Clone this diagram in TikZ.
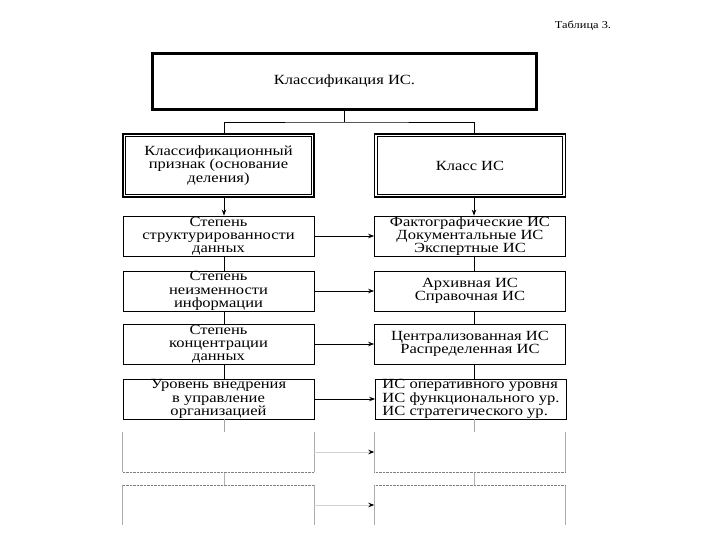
\documentclass[tikz,border=0pt]{standalone}
\usepackage{fontspec}
\setmainfont{Liberation Serif}[FakeStretch=1.18]
\usetikzlibrary{arrows.meta,positioning}

\tikzset{
  cell/.style={draw, line width=0.8pt, minimum width=191pt, minimum height=40pt,
    inner sep=0pt, align=center, font=\fontsize{14}{13.2}\selectfont},
  head/.style={cell, line width=1.5pt, minimum height=63pt},
  faint/.style={minimum width=191pt, minimum height=40pt, inner sep=0pt},
  link/.style={line width=0.8pt},
  flow/.style={line width=0.8pt, ->},
  paleflow/.style={line width=0.8pt, draw=gray!35, -{Stealth[length=6pt,width=4.5pt,black]}},
}

\begin{document}
\begin{tikzpicture}[x=1pt,y=-1pt,>={Stealth[length=6pt,width=4.5pt]}]
  \useasboundingbox (0,0) rectangle (720,540);
  \node[font=\fontsize{10.5}{12}\selectfont] (tab) at (583,26) {Таблица 3.};

  % title box, double frame
  \node[cell, line width=2.6pt, minimum width=385pt, minimum height=57pt] (top) at (344.5,81.5) {Классификация ИС.};
  \draw[line width=0.7pt] ([shift={(3pt,3pt)}]top.south west) rectangle ([shift={(-3pt,-3pt)}]top.north east);

  % column heads
  \node[head] (lh) at (218.5,165.5) {Классификационный\\признак (основание\\деления)};
  \node[head] (rh) at (470,165.5) {Класс ИС};
  \foreach \n in {lh,rh}
    \draw[line width=0.6pt] ([shift={(3.5pt,3.5pt)}]\n.south west) rectangle ([shift={(-3.5pt,-3.5pt)}]\n.north east);

  % rows
  \node[cell] (l1) at (218.5,236) {Степень\\структурированности\\данных};
  \node[cell] (r1) at (470,236) {Фактографические ИС\\Документальные ИС\\Экспертные ИС};
  \node[cell] (l2) at (218.5,291) {Степень\\неизменности\\информации};
  \node[cell] (r2) at (470,291) {Архивная ИС\\Справочная ИС};
  \node[cell] (l3) at (218.5,344) {Степень\\концентрации\\данных};
  \node[cell] (r3) at (470,344) {Централизованная ИС\\Распределенная ИС};
  \node[cell] (l4) at (218.5,399) {Уровень внедрения\\в управление\\организацией};
  \node[cell, align=left] (r4) at (471,399) {ИС оперативного уровня\\ИС функционального ур.\\ИС стратегического ур.};
  \node[faint] (l5) at (218.5,452) {};
  \node[faint] (r5) at (470,452) {};
  \node[faint] (l6) at (218.5,505) {};
  \node[faint] (r6) at (470,505) {};

  % connectors
  \coordinate (cl) at (224,0);
  \coordinate (cr) at (474,0);
  \coordinate (fork) at (344.5,122);
  \draw[link] (top.south) -- (fork);
  \draw[link] (lh.north -| cl) |- (fork) -| (rh.north -| cr);
  \draw[flow] (lh.south -| cl) -- (l1.north -| cl);
  \draw[flow] (rh.south -| cr) -- (r1.north -| cr);
  \foreach \a/\b/\c in {l1/l2/cl,l2/l3/cl,l3/l4/cl,r1/r2/cr,r2/r3/cr,r3/r4/cr}
    \draw[link] (\a.south -| \c) -- (\b.north -| \c);
  \foreach \i in {1,...,4}
    \draw[flow] (l\i.east) -- (r\i.west);

  % pale rows at the bottom
  \draw[link, gray!70] (l4.south -| cl) -- (l5.north -| cl);
  \draw[link, gray!70] (r4.south -| cr) -- (r5.north -| cr);
  \draw[link, gray!60] (l5.south -| cl) -- (l6.north -| cl);
  \draw[link, gray!60] (r5.south -| cr) -- (r6.north -| cr);
  \foreach \n in {l5,l6,r5,r6}
    \draw[gray!65, line width=0.8pt] (\n.north west) -- (\n.south west) (\n.north east) -- (\n.south east);
  \draw[gray, densely dotted] (l5.south west) -- (l5.south east) (l6.north west) -- (l6.north east)
    (r5.south west) -- (r5.south east) (r6.north west) -- (r6.north east);
  \draw[paleflow] (l5.east) -- (r5.west);
  \draw[paleflow] (l6.east) -- (r6.west);
\end{tikzpicture}
\end{document}
